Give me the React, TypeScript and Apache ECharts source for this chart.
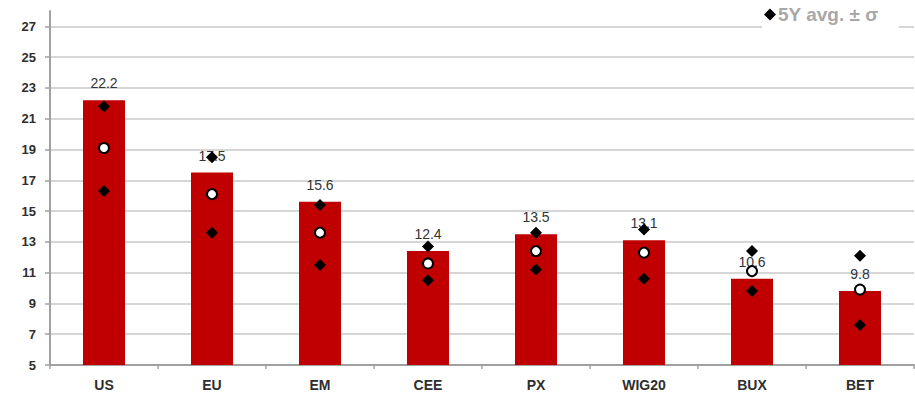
import React, { useEffect, useRef } from "react";
import * as echarts from "echarts";

const categories = ["US", "EU", "EM", "CEE", "PX", "WIG20", "BUX", "BET"];
const currentValues = [22.2, 17.5, 15.6, 12.4, 13.5, 13.1, 10.6, 9.8];
const avg5Y = [19.1, 16.1, 13.6, 11.6, 12.4, 12.3, 11.1, 9.9];
const upperSigma = [21.8, 18.5, 15.4, 12.7, 13.6, 13.8, 12.4, 12.1];
const lowerSigma = [16.3, 13.6, 11.5, 10.5, 11.2, 10.6, 9.8, 7.6];
const yTicks = [5, 7, 9, 11, 13, 15, 17, 19, 21, 23, 25, 27];
const legendName = "5Y avg. ± σ";

export default function App() {
  const ref = useRef<HTMLDivElement>(null);
  useEffect(() => {
    if (!ref.current) return;
    const chart = echarts.init(ref.current, null, { renderer: "svg" });
    chart.setOption({
      animation: false,
      backgroundColor: "#ffffff",
      textStyle: { fontFamily: "Liberation Sans, Arial, sans-serif" },
      grid: { left: 50, right: 1, top: 11, bottom: 30, containLabel: false },
      legend: {
        data: [{ name: legendName, icon: "diamond", itemStyle: { color: "#000000", opacity: 1 } }],
        left: 762,
        top: 0,
        itemWidth: 12,
        itemHeight: 12,
        itemGap: 4,
        backgroundColor: "#ffffff",
        borderWidth: 0,
        shadowBlur: 0,
        padding: [5, 20, 10, 2],
        textStyle: { color: "#a8a8a8", fontSize: 19, fontWeight: "bold", padding: [0, 0, 0, -3] },
      },
      xAxis: {
        type: "category",
        data: categories,
        axisLine: { show: true, lineStyle: { color: "#a0a0a0", width: 2 } },
        axisTick: { show: true, alignWithLabel: false, length: 4, lineStyle: { color: "#a0a0a0", width: 1.5 } },
        axisLabel: { color: "#2e2e2e", fontSize: 14, fontWeight: "bold", margin: 13 },
        splitLine: { show: false },
      },
      yAxis: {
        type: "value",
        min: 5,
        max: 28,
        axisLine: { show: true, lineStyle: { color: "#a0a0a0", width: 2 } },
        axisTick: { show: true, length: 5, customValues: yTicks, lineStyle: { color: "#a0a0a0", width: 1.5 } },
        axisLabel: { color: "#2e2e2e", fontSize: 13, fontWeight: "bold", margin: 14, customValues: yTicks },
        splitLine: { show: true, lineStyle: { color: "#c8c8c8", width: 1.5 } },
      },
      series: [
        {
          type: "bar",
          name: "Current",
          data: currentValues,
          barWidth: 42,
          itemStyle: { color: "#c00000" },
          label: {
            show: true,
            position: "top",
            distance: 10,
            color: "#333333",
            fontSize: 14,
            formatter: (p: any) => p.value.toFixed(1),
          },
          z: 2,
        },
        {
          type: "scatter",
          name: "5Y avg.",
          data: avg5Y,
          symbol: "circle",
          symbolSize: 10,
          itemStyle: { color: "#ffffff", borderColor: "#000000", borderWidth: 2, opacity: 1 },
          z: 4,
        },
        {
          type: "scatter",
          name: legendName,
          data: upperSigma,
          symbol: "diamond",
          symbolSize: 12,
          itemStyle: { color: "#000000", opacity: 1 },
          z: 4,
        },
        {
          type: "scatter",
          name: legendName,
          data: lowerSigma,
          symbol: "diamond",
          symbolSize: 12,
          itemStyle: { color: "#000000", opacity: 1 },
          z: 4,
        },
      ],
    });
    return () => chart.dispose();
  }, []);
  return (
    <div
      ref={ref}
      style={{ position: "fixed", left: 0, top: 0, width: 915, height: 395 }}
    />
  );
}
